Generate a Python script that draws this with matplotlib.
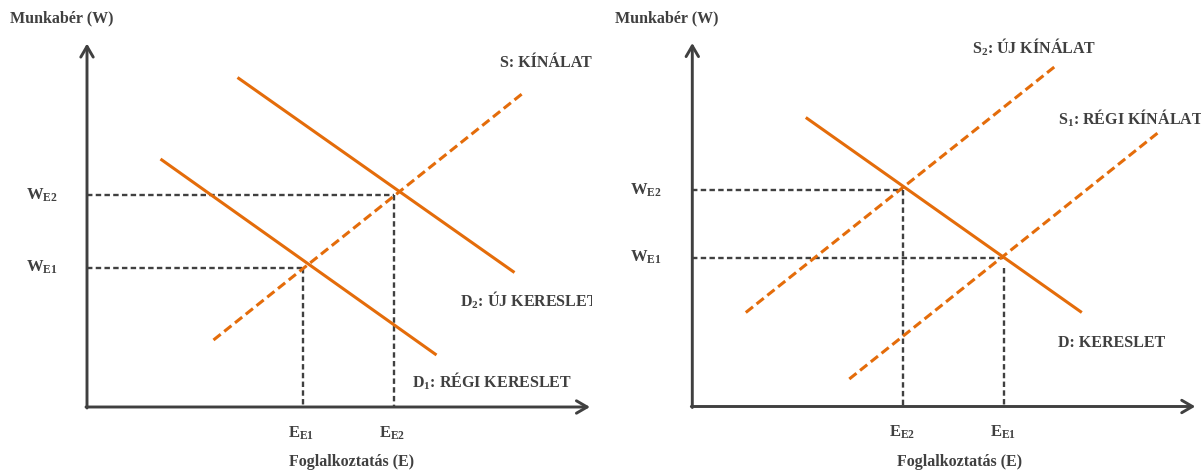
import matplotlib
matplotlib.use("Agg")
import matplotlib.pyplot as plt

plt.rcParams['mathtext.fontset'] = 'custom'
plt.rcParams['mathtext.rm'] = 'Liberation Serif:bold'
plt.rcParams['mathtext.it'] = 'Liberation Serif:bold'
plt.rcParams['mathtext.bf'] = 'Liberation Serif:bold'
plt.rcParams['font.family'] = ['Liberation Serif', 'DejaVu Serif']

ORANGE = '#E46C0A'
GREY = '#404040'

# ---------------- data (abstract units: employment E, wage W) ----------------
# Left panel: demand shift
left_d1_x = [1.47, 6.99]
left_d1_y = [4.96, 1.04]
left_d2_x = [3.01, 8.55]
left_d2_y = [6.59, 2.69]
left_s_x = [2.53, 8.76]
left_s_y = [1.34, 6.31]
left_eq_E = [4.31, 6.13]        # E_E1, E_E2
left_eq_W = [2.79, 4.24]        # W_E1, W_E2
left_eq_names = ['E1', 'E2']

# Right panel: supply shift
right_d_x = [2.27, 7.79]
right_d_y = [5.78, 1.88]
right_s1_x = [3.14, 9.37]
right_s1_y = [0.55, 5.52]
right_s2_x = [1.07, 7.29]
right_s2_y = [1.88, 6.83]
right_eq_E = [6.24, 4.22]       # E_E1, E_E2
right_eq_W = [2.98, 4.33]       # W_E1, W_E2
right_eq_vtop = [2.77, 4.33]    # where the vertical guides start
right_eq_names = ['E1', 'E2']

y_label = 'Munkabér (W)'
x_label = 'Foglalkoztatás (E)'

AX_LEN_X = 10.06
AX_LEN_Y = 7.27

W_PX, H_PX = 1201, 472
fig = plt.figure(figsize=(W_PX / 100, H_PX / 100), dpi=100)

PX = 50.0  # pixels per data unit


def make_ax(px_left, px_right, origin_x, origin_y):
    ax = fig.add_axes([px_left / W_PX, 0, (px_right - px_left) / W_PX, 1])
    ax.set_xlim((px_left - origin_x) / PX, (px_right - origin_x) / PX)
    ax.set_ylim((origin_y - H_PX) / PX, origin_y / PX)
    ax.axis('off')
    arrow = dict(arrowstyle='->,head_length=0.55,head_width=0.32', lw=2.1,
                 color=GREY, shrinkA=0, shrinkB=0, mutation_scale=14)
    ax.annotate('', xy=(0, AX_LEN_Y), xytext=(0, -0.02), arrowprops=arrow)
    ax.annotate('', xy=(AX_LEN_X, 0), xytext=(-0.02, 0), arrowprops=arrow)
    return ax


def guide(ax, xs, ys):
    ln, = ax.plot(xs, ys, color=GREY, lw=1.7, solid_capstyle='butt')
    ln.set_dashes((2.3, 1.4))


def solid(ax, xs, ys):
    ax.plot(xs, ys, color=ORANGE, lw=2.2, solid_capstyle='butt')


def dashed(ax, xs, ys):
    ln, = ax.plot(xs, ys, color=ORANGE, lw=2.2, dash_capstyle='butt')
    ln.set_dashes((3.0, 1.5))


def txt(ax, x, y, s, size=11.5, ha='left', va='center'):
    ax.text(x, y, s, fontsize=size, fontweight='bold', color=GREY,
            ha=ha, va=va, clip_on=True)


# ---------------- left panel ----------------
axL = make_ax(0, 592, 87, 407)
for E, W in zip(left_eq_E, left_eq_W):
    guide(axL, [0, E], [W, W])
    guide(axL, [E, E], [W, 0])
solid(axL, left_d1_x, left_d1_y)
solid(axL, left_d2_x, left_d2_y)
dashed(axL, left_s_x, left_s_y)

txt(axL, -1.54, (407 - 18) / PX, y_label, size=11.5)
for E, W, n in zip(left_eq_E, left_eq_W, left_eq_names):
    txt(axL, -1.22, W, r'W$_{\mathrm{%s}}$' % n, size=12)
    txt(axL, E - 0.02, -0.52, r'E$_{\mathrm{%s}}$' % n, size=12, ha='center')
txt(axL, 5.3, -1.11, x_label, size=11.5, ha='center')
txt(axL, 8.26, (407 - 63) / PX, 'S: KÍNÁLAT')
txt(axL, 7.46, (407 - 300) / PX, r'D$_{\mathrm{2}}$: ÚJ KERESLET')
txt(axL, 6.5, (407 - 381) / PX, r'D$_{\mathrm{1}}$: RÉGI KERESLET')

# ---------------- right panel ----------------
axR = make_ax(600, 1201, 692.3, 406.5)
for E, W, vt in zip(right_eq_E, right_eq_W, right_eq_vtop):
    guide(axR, [0, E], [W, W])
    guide(axR, [E, E], [vt, 0])
solid(axR, right_d_x, right_d_y)
dashed(axR, right_s1_x, right_s1_y)
dashed(axR, right_s2_x, right_s2_y)

txt(axR, -1.54, (406.5 - 18) / PX, y_label, size=11.5)
for E, W, n in zip(right_eq_E, right_eq_W, right_eq_names):
    txt(axR, -1.24, W, r'W$_{\mathrm{%s}}$' % n, size=12)
    txt(axR, E - 0.02, -0.52, r'E$_{\mathrm{%s}}$' % n, size=12, ha='center')
txt(axR, 5.35, -1.11, x_label, size=11.5, ha='center')
txt(axR, 5.6, (406.5 - 47) / PX, r'S$_{\mathrm{2}}$: ÚJ KÍNÁLAT')
txt(axR, 7.32, (406.5 - 118) / PX, r'S$_{\mathrm{1}}$: RÉGI KÍNÁLAT')
txt(axR, 7.32, (406.5 - 343) / PX, 'D: KERESLET')

fig.savefig('out.png', dpi=100)
